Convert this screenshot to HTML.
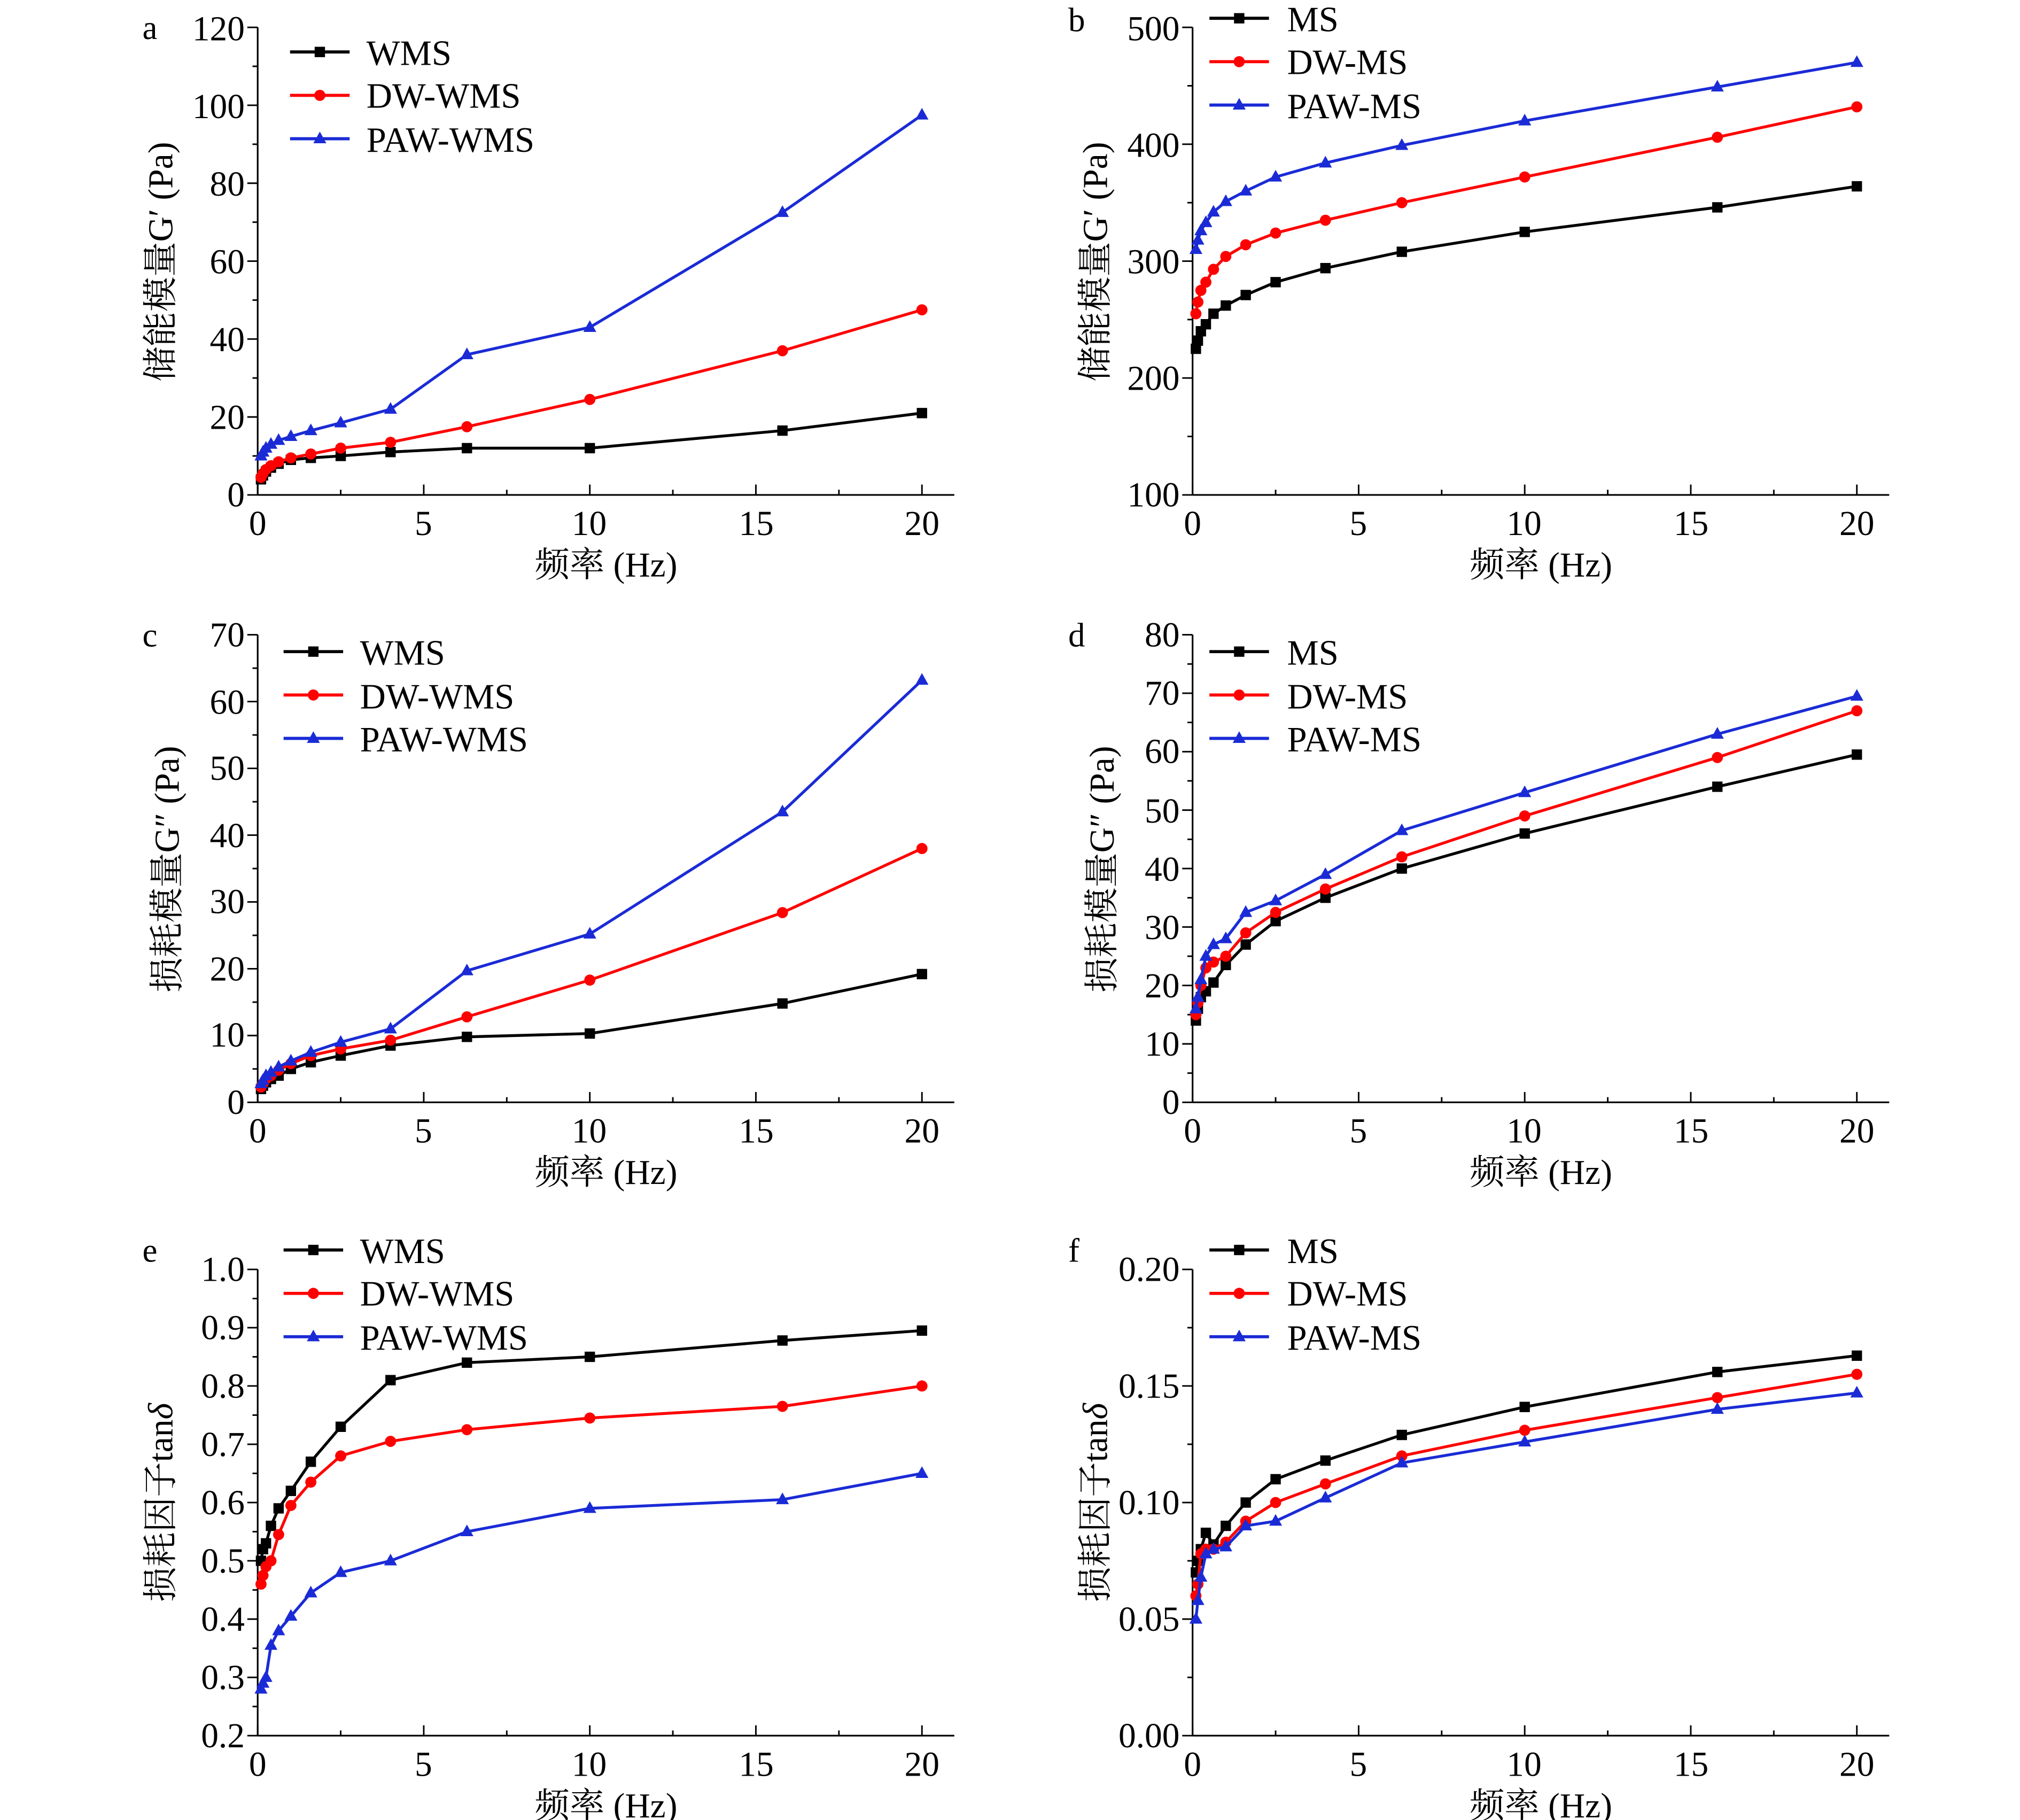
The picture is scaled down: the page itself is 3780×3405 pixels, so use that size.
<!DOCTYPE html>
<html><head><meta charset="utf-8">
<style>
html,body{margin:0;padding:0;background:#fff;}
svg{display:block;}
text{font-family:"Liberation Serif","Noto Serif CJK SC","Noto Sans CJK SC",serif;fill:#000;}
</style></head>
<body>
<svg id="s" width="3780" height="3405" viewBox="0 0 1560 1405" xmlns="http://www.w3.org/2000/svg">
<rect width="1560" height="1405" fill="#fff"/>
<g id="g"></g>
<g font-size="26">
<text x="110" y="30">a</text><text x="825" y="24">b</text>
<text x="110" y="499">c</text><text x="825" y="499">d</text>
<text x="110" y="974">e</text><text x="825" y="974">f</text>
</g>
<g font-size="27" text-anchor="end">
<text x="189" y="391">0</text><text x="189" y="331">20</text><text x="189" y="271">40</text><text x="189" y="211">60</text><text x="189" y="151">80</text><text x="189" y="91">100</text><text x="189" y="31">120</text>
<text x="911" y="391">100</text><text x="911" y="301">200</text><text x="911" y="211">300</text><text x="911" y="121">400</text><text x="911" y="31">500</text>
<text x="189" y="860">0</text><text x="189" y="808">10</text><text x="189" y="757">20</text><text x="189" y="705">30</text><text x="189" y="654">40</text><text x="189" y="602">50</text><text x="189" y="551">60</text><text x="189" y="499">70</text>
<text x="911" y="860">0</text><text x="911" y="815">10</text><text x="911" y="770">20</text><text x="911" y="725">30</text><text x="911" y="680">40</text><text x="911" y="635">50</text><text x="911" y="589">60</text><text x="911" y="544">70</text><text x="911" y="499">80</text>
<text x="189" y="1349">0.2</text><text x="189" y="1304">0.3</text><text x="189" y="1259">0.4</text><text x="189" y="1214">0.5</text><text x="189" y="1169">0.6</text><text x="189" y="1124">0.7</text><text x="189" y="1079">0.8</text><text x="189" y="1034">0.9</text><text x="189" y="989">1.0</text>
<text x="911" y="1349">0.00</text><text x="911" y="1259">0.05</text><text x="911" y="1169">0.10</text><text x="911" y="1079">0.15</text><text x="911" y="989">0.20</text>
</g>
<g font-size="27" text-anchor="middle">
<text x="199" y="413">0</text><text x="327" y="413">5</text><text x="455" y="413">10</text><text x="584" y="413">15</text><text x="712" y="413">20</text>
<text x="921" y="413">0</text><text x="1049" y="413">5</text><text x="1177" y="413">10</text><text x="1306" y="413">15</text><text x="1434" y="413">20</text>
<text x="199" y="882">0</text><text x="327" y="882">5</text><text x="455" y="882">10</text><text x="584" y="882">15</text><text x="712" y="882">20</text>
<text x="921" y="882">0</text><text x="1049" y="882">5</text><text x="1177" y="882">10</text><text x="1306" y="882">15</text><text x="1434" y="882">20</text>
<text x="199" y="1371">0</text><text x="327" y="1371">5</text><text x="455" y="1371">10</text><text x="584" y="1371">15</text><text x="712" y="1371">20</text>
<text x="921" y="1371">0</text><text x="1049" y="1371">5</text><text x="1177" y="1371">10</text><text x="1306" y="1371">15</text><text x="1434" y="1371">20</text>
<text x="468" y="445">频率 (Hz)</text><text x="1190" y="445">频率 (Hz)</text>
<text x="468" y="914">频率 (Hz)</text><text x="1190" y="914">频率 (Hz)</text>
<text x="468" y="1403">频率 (Hz)</text><text x="1190" y="1403">频率 (Hz)</text>
<text transform="translate(133,202) rotate(-90)">储能模量G′ (Pa)</text>
<text transform="translate(855,202) rotate(-90)">储能模量G′ (Pa)</text>
<text transform="translate(138,671) rotate(-90)">损耗模量G″ (Pa)</text>
<text transform="translate(860,671) rotate(-90)">损耗模量G″ (Pa)</text>
<text transform="translate(133,1160) rotate(-90)">损耗因子tan<tspan font-style="italic">δ</tspan></text>
<text transform="translate(855,1160) rotate(-90)">损耗因子tan<tspan font-style="italic">δ</tspan></text>
</g>
<g font-size="27.5">
<text x="283" y="50">WMS</text><text x="283" y="83">DW-WMS</text><text x="283" y="117">PAW-WMS</text>
<text x="994" y="24">MS</text><text x="994" y="57">DW-MS</text><text x="994" y="91">PAW-MS</text>
<text x="278" y="513">WMS</text><text x="278" y="547">DW-WMS</text><text x="278" y="580">PAW-WMS</text>
<text x="994" y="513">MS</text><text x="994" y="547">DW-MS</text><text x="994" y="580">PAW-MS</text>
<text x="278" y="975">WMS</text><text x="278" y="1008">DW-WMS</text><text x="278" y="1042">PAW-WMS</text>
<text x="994" y="975">MS</text><text x="994" y="1008">DW-MS</text><text x="994" y="1042">PAW-MS</text>
</g>
</svg>
<script>
var NS="http://www.w3.org/2000/svg",G=document.getElementById("g");
function el(t,a){var e=document.createElementNS(NS,t);for(var k in a)e.setAttribute(k,a[k]);G.appendChild(e);return e;}
var F=[0.1,0.16,0.25,0.4,0.63,1,1.6,2.5,4,6.3,10,15.8,20];
var C=["#000","#f00","#1a2bd6"];
function marker(i,x,y){
 if(i==0)el("rect",{x:x-4,y:y-4,width:8,height:8,fill:C[0]});
 else if(i==1)el("circle",{cx:x,cy:y,r:4.3,fill:C[1]});
 else el("polygon",{points:(x)+","+(y-5.5)+" "+(x-5)+","+(y+3.5)+" "+(x+5)+","+(y+3.5),fill:C[2]});
}
var P=[
 {x0:199,yb:382,yt:21,lo:0,hi:120,maj:20,min:10,leg:[224,270,40],d:[
  [4,5,6,7,8,9,9.5,10,11,12,12,16.5,21],
  [4.5,5.5,6.5,7.5,8.5,9.5,10.5,12,13.5,17.5,24.5,37,47.5],
  [10,11,12,13,14,15,16.5,18.5,22,36,43,72.5,97.5]]},
 {x0:921,yb:382,yt:21,lo:100,hi:500,maj:100,min:50,leg:[934,980,14],d:[
  [225,232,240,246,255,262,271,282,294,308,325,346,364],
  [255,265,275,282,293,304,314,324,335,350,372,406,432],
  [310,318,326,333,342,351,360,372,384,399,420,449,470]]},
 {x0:199,yb:851,yt:490,lo:0,hi:70,maj:10,min:5,leg:[219,265,503],d:[
  [2,2.5,3,3.5,4,5,6,7,8.5,9.8,10.3,14.8,19.2],
  [2.3,2.8,3.5,4,4.8,5.8,7,8,9.3,12.8,18.3,28.4,38],
  [2.8,3.3,4,4.5,5.3,6.2,7.5,9,11,19.7,25.2,43.5,63.2]]},
 {x0:921,yb:851,yt:490,lo:0,hi:80,maj:10,min:5,leg:[934,980,503],d:[
  [14,16,18,19,20.5,23.5,27,31,35,40,46,54,59.5],
  [15,17,20,23,24,25,29,32.5,36.5,42,49,59,67],
  [16,18,21,25,27,28,32.5,34.5,39,46.5,53,63,69.5]]},
 {x0:199,yb:1340,yt:980,lo:0.2,hi:1.0,maj:0.1,min:0.05,leg:[219,265,965],d:[
  [0.5,0.52,0.53,0.56,0.59,0.62,0.67,0.73,0.81,0.84,0.85,0.878,0.895],
  [0.46,0.475,0.49,0.5,0.545,0.595,0.635,0.68,0.705,0.725,0.745,0.765,0.8],
  [0.28,0.29,0.3,0.355,0.38,0.405,0.445,0.48,0.5,0.55,0.59,0.605,0.65]]},
 {x0:921,yb:1340,yt:980,lo:0,hi:0.2,maj:0.05,min:0.025,leg:[934,980,965],d:[
  [0.07,0.075,0.08,0.087,0.082,0.09,0.1,0.11,0.118,0.129,0.141,0.156,0.163],
  [0.06,0.065,0.078,0.08,0.08,0.083,0.092,0.1,0.108,0.12,0.131,0.145,0.155],
  [0.05,0.058,0.068,0.078,0.08,0.081,0.09,0.092,0.102,0.117,0.126,0.14,0.147]]}
];
P.forEach(function(p){
 var sx=25.65,X=function(f){return p.x0+f*sx;},Y=function(v){return p.yb-(v-p.lo)/(p.hi-p.lo)*(p.yb-p.yt);};
 el("line",{x1:p.x0,y1:p.yt,x2:p.x0,y2:p.yb,stroke:"#000","stroke-width":1.3});
 el("line",{x1:p.x0,y1:p.yb,x2:p.x0+538,y2:p.yb,stroke:"#000","stroke-width":1.3});
 var n=Math.round((p.hi-p.lo)/p.min);
 for(var i=0;i<=n;i++){var y=Y(p.lo+i*p.min),L=(i%2==0)?8:4;
  el("line",{x1:p.x0-L,y1:y,x2:p.x0,y2:y,stroke:"#000","stroke-width":1.2});}
 for(var i=0;i<=8;i++){var x=X(i*2.5),L=(i%2==0)?8:4;
  el("line",{x1:x,y1:p.yb-L,x2:x,y2:p.yb,stroke:"#000","stroke-width":1.2});}
 p.d.forEach(function(s,k){
  var pts=s.map(function(v,j){return X(F[j])+","+Y(v);}).join(" ");
  el("polyline",{points:pts,fill:"none",stroke:C[k],"stroke-width":2.2});
  s.forEach(function(v,j){marker(k,X(F[j]),Y(v));});
  var ly=p.leg[2]+k*33.5;
  el("line",{x1:p.leg[0],y1:ly,x2:p.leg[1],y2:ly,stroke:C[k],"stroke-width":2.4});
  marker(k,(p.leg[0]+p.leg[1])/2,ly);
 });
});
</script>
</body></html>
